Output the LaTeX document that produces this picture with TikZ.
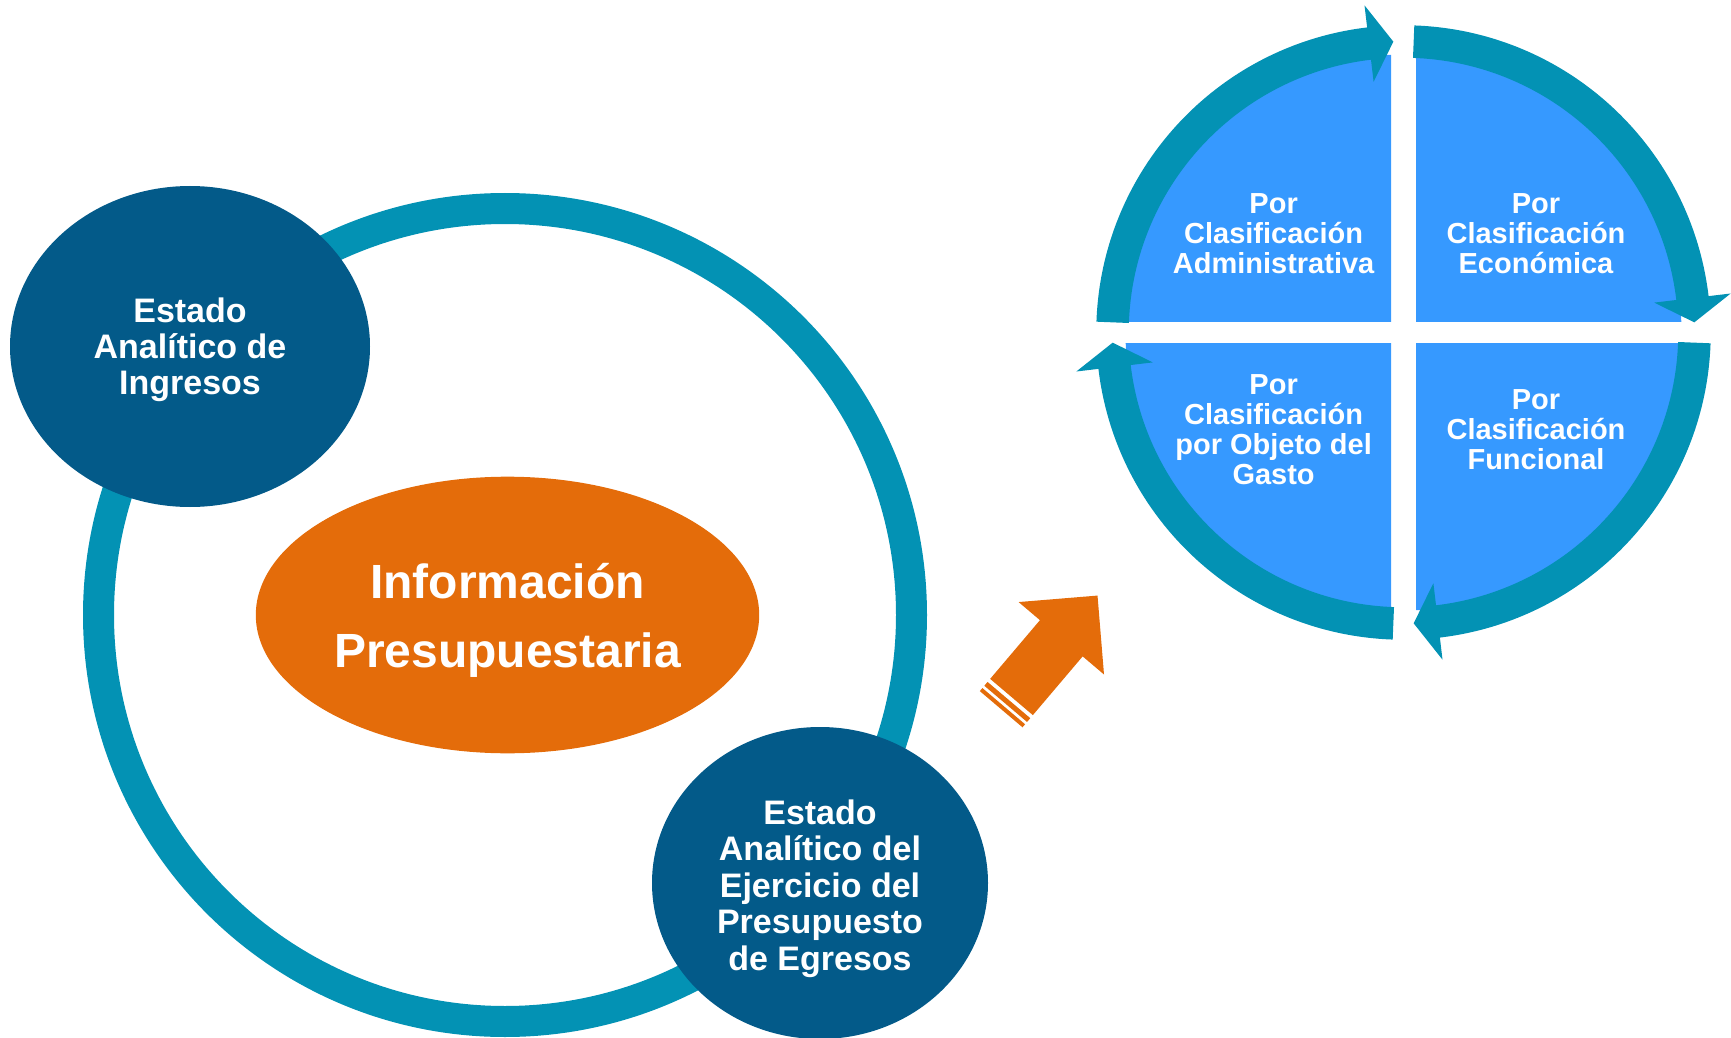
\documentclass[tikz,border=0pt]{standalone}
\usepackage{fontspec}
\setmainfont{Liberation Sans}
\usepackage{tikz}
\usetikzlibrary{shapes}
\usetikzlibrary{calc}
\definecolor{ringteal}{HTML}{0392B4}
\definecolor{darkblue}{HTML}{035A89}
\definecolor{infoorange}{HTML}{E46C0A}
\definecolor{quadblue}{HTML}{3699FF}
\tikzstyle{ring} = [draw=ringteal,line width=15.5pt]
\tikzstyle{cyclearc} = [draw=ringteal,line width=16.25pt]
\tikzstyle{estado}=[ellipse,fill=darkblue,inner sep=0pt]
\tikzstyle{info}=[ellipse,fill=infoorange,inner sep=0pt]
\tikzstyle{estadotext}=[text=white,align=center,inner sep=0pt,font=\bfseries\fontsize{17}{18.2}\selectfont]
\tikzstyle{infotext}=[text=white,align=center,inner sep=0pt,font=\bfseries\fontsize{24}{34.5}\selectfont]
\tikzstyle{clasif}=[text=white,align=center,inner sep=0pt,font=\bfseries\fontsize{14.5}{15}\selectfont]

\begin{document}
\begin{tikzpicture}[x=0.5pt,y=-0.5pt]
    \useasboundingbox (0,0) rectangle (1731,1038);
    % Big ring first, the ellipses go on top of it
    \coordinate (rc) at (505,615);
    \draw[ring] (rc) circle[radius=406.5];
    \node[info,minimum width=251.7pt,minimum height=138.3pt] (info) at (507.5,615) {};
    \node[estado,minimum width=180pt,minimum height=160.5pt] (ingresos) at (190,346.5) {};
    \node[estado,minimum width=168pt,minimum height=156pt] (egresos) at (820,883) {};
    \node[infotext] (infolabel) at (507.5,620.5) {Información\\Presupuestaria};
    \node[estadotext] (ingresoslabel) at (190,349.8) {Estado\\Analítico de\\Ingresos};
    \node[estadotext] (egresoslabel) at (820,888.5) {Estado\\Analítico del\\Ejercicio del\\Presupuesto\\de Egresos};

    % Orange arrow with two stripes at its tail
    \begin{scope}[shift={(1011.5,697)},rotate=49.7]
        \fill[infoorange] (0,-28) -- (77,-28) -- (77,-56) -- (133,0) -- (77,56) -- (77,28) -- (0,28) -- cycle;
        \fill[infoorange] (-9,-28) rectangle (-4,28);
        \fill[infoorange] (-16,-28) rectangle (-12,28);
    \end{scope}

    % Four quadrants of the cycle
    \coordinate (qc) at (1403.5,332.5);
    \foreach \xa/\ya/\xb/\yb in {1050/0/1391/321, 1416/0/1760/321, 1050/343/1391/700, 1416/343/1760/700} {
        \begin{scope}
            \clip (\xa,\ya) rectangle (\xb,\yb);
            \fill[quadblue] (qc) circle[radius=278];
        \end{scope}
    }
    % Arcs of the cycle, each with its head
    \foreach \k in {0,...,3} {
        \pgfmathsetmacro{\ta}{180+90*\k+2}
        \pgfmathsetmacro{\tb}{180+90*\k+83.7}
        \pgfmathsetmacro{\tc}{180+90*\k+83.2}
        \pgfmathsetmacro{\td}{180+90*\k+88}
        \draw[cyclearc] ($(qc)+(\ta:291)$) arc[start angle=\ta, end angle=\tb, radius=291];
        \fill[ringteal] ($(qc)+(\tc:252.5)$) -- ($(qc)+(\td:291)$) -- ($(qc)+(\tc:329.5)$) -- cycle;
    }
    \foreach \pos/\name/\txt in {{(1273.6,233.6)/admin/{Por\\Clasificación\\Administrativa}},
        {(1536,233.6)/econ/{Por\\Clasificación\\Económica}},
        {(1273.6,430)/objeto/{Por\\Clasificación\\por Objeto del\\Gasto}},
        {(1536,430)/func/{Por\\Clasificación\\Funcional}}}
        \node[clasif] (\name) at \pos {\txt};
\end{tikzpicture}
\end{document}
